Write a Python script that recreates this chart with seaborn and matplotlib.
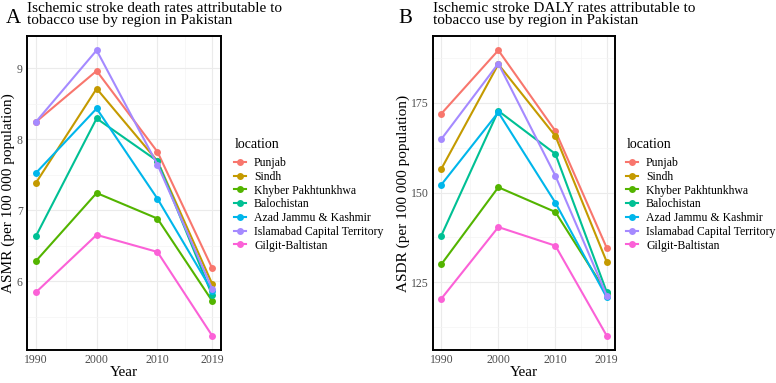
import pandas as pd
import matplotlib
matplotlib.use("Agg")
from matplotlib import pyplot as plt
from matplotlib.lines import Line2D
from matplotlib.ticker import FixedLocator
import seaborn as sns

# data
years = [1990, 2000, 2010, 2019]
locations = ["Punjab", "Sindh", "Khyber Pakhtunkhwa", "Balochistan",
             "Azad Jammu & Kashmir", "Islamabad Capital Territory", "Gilgit-Baltistan"]
colors = ["#F8766D", "#C49A00", "#53B400", "#00C094", "#00B6EB", "#A58AFF", "#FB61D7"]

# ASMR per location (rows follow `locations`)
asmr_values = [
    [8.24, 8.96, 7.82, 6.18],
    [7.38, 8.71, 7.69, 5.96],
    [6.28, 7.24, 6.88, 5.72],
    [6.63, 8.29, 7.69, 5.80],
    [7.52, 8.43, 7.16, 5.86],
    [8.24, 9.25, 7.64, 5.89],
    [5.84, 6.65, 6.41, 5.23],
]
# ASDR per location
asdr_values = [
    [172.0, 189.7, 167.2, 134.6],
    [156.6, 185.8, 165.8, 130.7],
    [130.0, 151.5, 144.6, 122.0],
    [138.0, 172.8, 160.8, 122.3],
    [152.2, 172.4, 147.2, 120.8],
    [164.9, 186.0, 154.7, 121.3],
    [120.4, 140.4, 135.2, 110.1],
]

asmr_ticks = [6, 7, 8, 9]
asmr_minor = [5.5, 6.5, 7.5, 8.5]
asdr_ticks = [125, 150, 175]
asdr_minor = [112.5, 137.5, 162.5, 187.5]

rows = []
for i, loc in enumerate(locations):
    for j, yr in enumerate(years):
        rows.append({"location": loc, "year": yr,
                     "asmr": asmr_values[i][j], "asdr": asdr_values[i][j]})
df = pd.DataFrame(rows)

plt.rcParams["font.family"] = ["Liberation Serif", "DejaVu Serif"]

fig = plt.figure(figsize=(7.76, 3.83), dpi=100)
W, H = 776, 383


def px_axes(left, top, right, bottom):
    return fig.add_axes([left / W, 1 - bottom / H, (right - left) / W, (bottom - top) / H])


ax_a = px_axes(27, 36, 221, 350)
ax_b = px_axes(433, 36, 615, 350)


def draw_panel(ax, col, ylabel, ticks, minor, letter, title, letter_x, title_x, leg_x):
    sns.lineplot(data=df, x="year", y=col, hue="location", hue_order=locations,
                 palette=colors, marker="o", markersize=5, markeredgewidth=0,
                 linewidth=1.5, ax=ax, legend=False)
    # ggplot-like 5% expansion
    lo, hi = df[col].min(), df[col].max()
    pad = (hi - lo) * 0.05
    ax.set_ylim(lo - pad, hi + pad)
    xpad = (years[-1] - years[0]) * 0.05
    ax.set_xlim(years[0] - xpad, years[-1] + xpad)

    ax.set_xticks(years)
    ax.set_xticklabels([str(y) for y in years])
    ax.xaxis.set_minor_locator(FixedLocator([1995, 2005, 2014.5]))
    ax.set_yticks(ticks)
    ax.set_yticklabels([str(t) for t in ticks])
    ax.yaxis.set_minor_locator(FixedLocator(minor))

    ax.grid(which="major", color="#EBEBEB", linewidth=0.8)
    ax.grid(which="minor", color="#F4F4F4", linewidth=0.5)
    ax.set_axisbelow(True)
    ax.tick_params(which="both", length=0, labelsize=8.5, labelcolor="#4D4D4D", pad=3)
    for s in ax.spines.values():
        s.set_color("black")
        s.set_linewidth(1.4)

    ax.set_xlabel("Year", fontsize=11, labelpad=0)
    ax.set_ylabel(ylabel, fontsize=11, labelpad=1)

    fig.text(letter_x / W, 1 - 23 / H, letter, fontsize=15, ha="left", va="baseline")
    fig.text(title_x / W, 1 - 2 / H, title, fontsize=11, ha="left", va="top",
             linespacing=0.9)

    fig.text((leg_x + 1) / W, 1 - 144 / H, "location", fontsize=10, ha="left", va="center")
    handles = [Line2D([], [], color=c, marker="o", markersize=5, markeredgewidth=0,
                      linewidth=1.5) for c in colors]
    fig.legend(handles, locations, loc="upper left",
               bbox_to_anchor=(leg_x / W, 1 - 157 / H), frameon=False,
               fontsize=8.5, handlelength=1.0, handletextpad=0.7, labelspacing=0.15,
               borderpad=0, borderaxespad=0)


draw_panel(ax_a, "asmr", "ASMR (per 100 000 population)", asmr_ticks, asmr_minor,
           "A", "Ischemic stroke death rates attributable to\ntobacco use by region in Pakistan",
           6, 27, 234)
draw_panel(ax_b, "asdr", "ASDR (per 100 000 population)", asdr_ticks, asdr_minor,
           "B", "Ischemic stroke DALY rates attributable to\ntobacco use by region in Pakistan",
           398, 433, 626)

fig.savefig("out.png", dpi=100)
